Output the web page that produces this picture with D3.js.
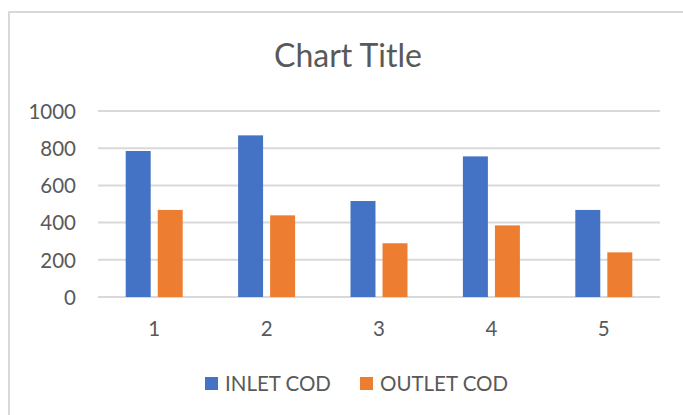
<!DOCTYPE html>
<html>
<head>
<meta charset="utf-8">
<script src="https://cdn.jsdelivr.net/npm/d3@7/dist/d3.min.js"></script>
<style>
  html, body { margin: 0; padding: 0; background: #ffffff; }
  svg { display: block; }
  text { font-family: Lato, "Open Sans", sans-serif; fill: #595959; }
</style>
</head>
<body>
<svg id="chart" width="683" height="415"></svg>
<script>
// Chart data
const categories = ["1", "2", "3", "4", "5"];
const seriesNames = ["INLET COD", "OUTLET COD"];
const inletCOD = [785, 869, 516, 756, 468];
const outletCOD = [468, 439, 289, 385, 240];
const yTicks = [0, 200, 400, 600, 800, 1000];
const chartTitle = "Chart Title";

const colors = ["#4472C4", "#ED7D31"];
const series = [inletCOD, outletCOD];

const svg = d3.select("#chart");
const W = 683, H = 415;

// Chart area frame (extends past the right and bottom edges)
svg.append("rect")
  .attr("x", 9).attr("y", 12)
  .attr("width", W + 20).attr("height", H + 20)
  .attr("fill", "#ffffff")
  .attr("stroke", "#D9D9D9")
  .attr("stroke-width", 2);

const plot = { left: 98, right: 660, top: 111, bottom: 297 };

const x0 = d3.scaleBand()
  .domain(categories)
  .range([plot.left, plot.right])
  .paddingInner(0.493)
  .paddingOuter(0.2465);

const x1 = d3.scaleBand()
  .domain(seriesNames)
  .range([0, x0.bandwidth()])
  .paddingInner(0.22)
  .paddingOuter(0);

const y = d3.scaleLinear()
  .domain([0, 1000])
  .range([plot.bottom, plot.top]);

// Horizontal gridlines
svg.append("g")
  .selectAll("line")
  .data(yTicks)
  .join("line")
  .attr("x1", plot.left).attr("x2", plot.right)
  .attr("y1", d => y(d)).attr("y2", d => y(d))
  .attr("stroke", "#D9D9D9")
  .attr("stroke-width", 2);

// Y axis labels
const yAxis = d3.axisLeft(y)
  .tickValues(yTicks)
  .tickFormat(d3.format("d"))
  .tickSize(0)
  .tickPadding(0);
const gy = svg.append("g")
  .attr("transform", `translate(${76},0)`)
  .call(yAxis);
gy.select(".domain").remove();
gy.selectAll("text")
  .attr("font-family", "Lato, 'Open Sans', sans-serif")
  .attr("font-size", 20.5)
  .attr("fill", "#595959")
  .attr("dy", "0.36em");

// X axis labels
const xAxis = d3.axisBottom(x0).tickSize(0).tickPadding(0);
const gx = svg.append("g")
  .attr("transform", `translate(0,${plot.bottom})`)
  .call(xAxis);
gx.select(".domain").remove();
gx.selectAll("text")
  .attr("font-family", "Lato, 'Open Sans', sans-serif")
  .attr("font-size", 20.5)
  .attr("fill", "#595959")
  .attr("y", 39)
  .attr("dy", 0);

// Bars
const groups = svg.append("g")
  .selectAll("g")
  .data(categories)
  .join("g")
  .attr("transform", d => `translate(${x0(d)},0)`);

groups.selectAll("rect")
  .data((d, i) => seriesNames.map((s, j) => ({ s, j, v: series[j][i] })))
  .join("rect")
  .attr("x", d => x1(d.s))
  .attr("width", x1.bandwidth())
  .attr("y", d => y(d.v))
  .attr("height", d => y(0) - y(d.v))
  .attr("fill", d => colors[d.j]);

// Title
svg.append("text")
  .attr("x", 348)
  .attr("y", 67)
  .attr("text-anchor", "middle")
  .attr("font-size", 32)
  .text(chartTitle);

// Legend
const legendItems = [
  { name: seriesNames[0], color: colors[0], x: 205 },
  { name: seriesNames[1], color: colors[1], x: 360 }
];
const legend = svg.append("g");
legendItems.forEach(item => {
  legend.append("rect")
    .attr("x", item.x).attr("y", 377)
    .attr("width", 13).attr("height", 13)
    .attr("fill", item.color);
  legend.append("text")
    .attr("x", item.x + 20)
    .attr("y", 391)
    .attr("font-size", 20.5)
    .text(item.name);
});
</script>
</body>
</html>
